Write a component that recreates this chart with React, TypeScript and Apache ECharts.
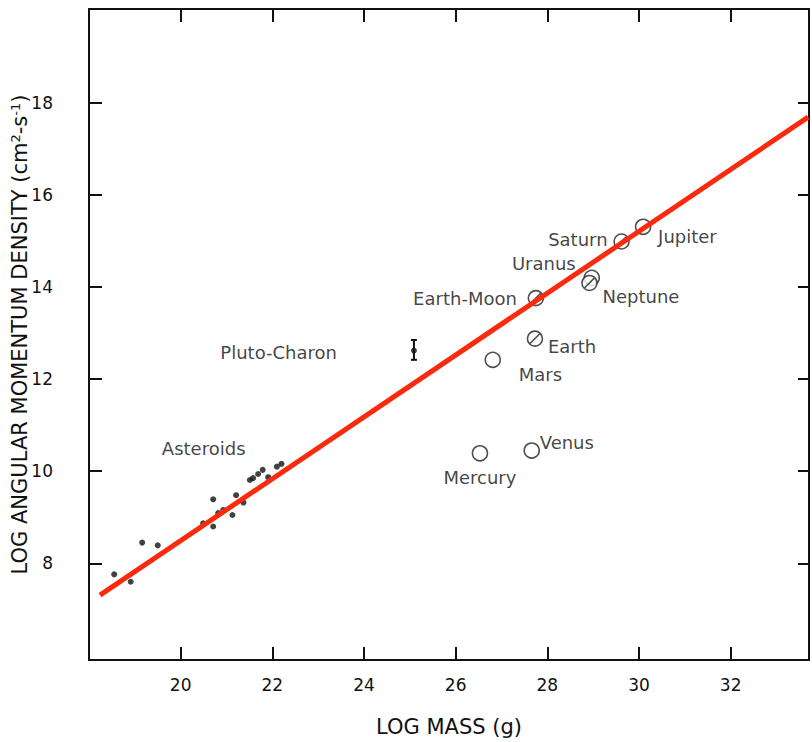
import React, { useEffect, useRef } from "react";
import * as echarts from "echarts";

// ---- data ----
const xTicks = [20, 22, 24, 26, 28, 30, 32];
const yTicks = [8, 10, 12, 14, 16, 18];

const asteroidMass = [18.55, 18.91, 19.16, 19.5, 20.49, 20.71, 20.71, 20.82, 20.93, 21.13, 21.21, 21.37, 21.51, 21.58, 21.69, 21.79, 21.91, 22.1, 22.2];
const asteroidJ = [7.76, 7.6, 8.45, 8.39, 8.87, 8.8, 9.39, 9.09, 9.16, 9.05, 9.48, 9.32, 9.81, 9.85, 9.94, 10.03, 9.87, 10.1, 10.16];

const planetNames = ["Mercury", "Venus", "Mars", "Earth", "Earth-Moon", "Uranus", "Neptune", "Saturn", "Jupiter"];
const planetMass = [26.53, 27.66, 26.81, 27.73, 27.75, 28.97, 28.92, 29.62, 30.09];
const planetJ = [10.39, 10.45, 12.42, 12.88, 13.76, 14.2, 14.09, 14.99, 15.31];

const plutoName = "Pluto-Charon";
const plutoMass = [25.09];
const plutoJ = [12.62];
const plutoJLow = [12.42];
const plutoJHigh = [12.85];

const fitMass = [18.24, 33.69];
const fitJ = [7.31, 17.69];

// ---- styling / layout ----
const FONT = "DejaVu Sans";
const TXT = "#111";
const slashed = new Set(["Earth", "Earth-Moon", "Neptune", "Saturn"]);
const labelLayout: Record<string, { align: string; offset: number[] }> = {
  Mercury: { align: "center", offset: [0, 24] },
  Venus: { align: "left", offset: [8, -8] },
  Mars: { align: "left", offset: [26, 15] },
  Earth: { align: "left", offset: [13, 8] },
  "Earth-Moon": { align: "right", offset: [-19, 0] },
  Uranus: { align: "right", offset: [-16, -14] },
  Neptune: { align: "left", offset: [13, 14] },
  Saturn: { align: "right", offset: [-14, -2] },
  Jupiter: { align: "left", offset: [15, 10] },
};
const slashPath = "path://M1,8A7,7,0,1,1,15,8A7,7,0,1,1,1,8ZM3,13L13,3";

export default function App() {
  const ref = useRef<HTMLDivElement>(null);
  useEffect(() => {
    if (!ref.current) return;
    const chart = echarts.init(ref.current, null, { renderer: "svg" });
    const xMin = 18, xMax = 33.71, yMin = 5.9, yMax = 20.04;
    const axisLineStyle = { color: "#111", width: 2 };
    const tickStyle = { color: "#111", width: 2 };
    const labelFont = { fontFamily: FONT, fontSize: 17, color: TXT };

    const planetData = planetNames.map((n, i) => {
      const lay = labelLayout[n];
      return {
        name: n,
        value: [planetMass[i], planetJ[i]],
        symbol: slashed.has(n) ? slashPath : "circle",
        label: {
          show: true,
          formatter: n,
          position: "inside",
          align: lay.align,
          verticalAlign: "middle",
          offset: lay.offset,
          fontFamily: FONT,
          fontSize: 18,
          color: TXT,
        },
      };
    });

    const asteroidData = asteroidMass.map((m, i) => ({
      value: [m, asteroidJ[i]],
      label: i === 15
        ? { show: true, formatter: "Asteroids", position: "inside", align: "center", verticalAlign: "middle", offset: [-59, -21], fontFamily: FONT, fontSize: 18, color: TXT }
        : { show: false },
    }));

    const option: any = {
      animation: false,
      backgroundColor: "#fff",
      grid: { left: 89, top: 9, right: 3, bottom: 82, containLabel: false, outerBoundsMode: "none" },
      xAxis: [
        {
          type: "value", min: xMin, max: xMax, position: "bottom",
          name: "LOG MASS (g)", nameLocation: "middle", nameGap: 56,
          nameTextStyle: { fontFamily: FONT, fontSize: 21, color: TXT },
          axisLine: { show: true, onZero: false, lineStyle: axisLineStyle },
          axisTick: { show: true, inside: true, length: 13, lineStyle: tickStyle, customValues: xTicks },
          axisLabel: { show: true, margin: 16, customValues: xTicks, ...labelFont },
          splitLine: { show: false },
        },
        {
          type: "value", min: xMin, max: xMax, position: "top",
          axisLine: { show: true, onZero: false, lineStyle: axisLineStyle },
          axisTick: { show: true, inside: true, length: 13, lineStyle: tickStyle, customValues: xTicks },
          axisLabel: { show: false },
          splitLine: { show: false },
        },
      ],
      yAxis: [
        {
          type: "value", min: yMin, max: yMax, position: "left",
          name: "LOG ANGULAR MOMENTUM DENSITY (cm{sup|2}-s{sup|-1})",
          nameLocation: "middle", nameGap: 58, nameRotate: 90, nameMoveOverlap: false,
          nameTextStyle: {
            fontFamily: FONT, fontSize: 21, color: TXT,
            rich: { sup: { fontFamily: FONT, fontSize: 13, color: TXT, verticalAlign: "top", padding: [0, 0, 9, 0] } },
          },
          axisLine: { show: true, onZero: false, lineStyle: axisLineStyle },
          axisTick: { show: true, inside: true, length: 13, lineStyle: tickStyle, customValues: yTicks },
          axisLabel: { show: true, margin: 36, customValues: yTicks, ...labelFont },
          splitLine: { show: false },
        },
        {
          type: "value", min: yMin, max: yMax, position: "right",
          axisLine: { show: true, onZero: false, lineStyle: axisLineStyle },
          axisTick: { show: true, inside: true, length: 11, lineStyle: tickStyle, customValues: yTicks },
          axisLabel: { show: false },
          splitLine: { show: false },
        },
      ],
      series: [
        {
          type: "scatter", name: "Asteroids", xAxisIndex: 0, yAxisIndex: 0,
          symbol: "circle", symbolSize: 6,
          itemStyle: { color: "#111" },
          data: asteroidData, z: 3,
        },
        {
          type: "scatter", name: "Planets", xAxisIndex: 0, yAxisIndex: 0,
          symbolSize: 15, symbolKeepAspect: true,
          itemStyle: { color: "#fff", borderColor: "#222", borderWidth: 1.6 },
          data: planetData, z: 3,
        },
        {
          type: "custom", name: "PlutoErr", xAxisIndex: 0, yAxisIndex: 0,
          data: plutoMass.map((m, i) => [m, plutoJLow[i], plutoJHigh[i]]),
          renderItem: (params: any, api: any) => {
            const x = api.value(0);
            const lo = api.coord([x, api.value(1)]);
            const hi = api.coord([x, api.value(2)]);
            const st = { stroke: "#111", lineWidth: 2 };
            return {
              type: "group",
              children: [
                { type: "line", shape: { x1: lo[0], y1: lo[1], x2: hi[0], y2: hi[1] }, style: st },
                { type: "line", shape: { x1: lo[0] - 3, y1: lo[1], x2: lo[0] + 3, y2: lo[1] }, style: st },
                { type: "line", shape: { x1: hi[0] - 3, y1: hi[1], x2: hi[0] + 3, y2: hi[1] }, style: st },
              ],
            };
          },
          z: 3,
        },
        {
          type: "scatter", name: "Pluto", xAxisIndex: 0, yAxisIndex: 0,
          symbol: "circle", symbolSize: 6,
          itemStyle: { color: "#111" },
          data: plutoMass.map((m, i) => ({
            value: [m, plutoJ[i]],
            label: { show: true, formatter: plutoName, position: "inside", align: "right", verticalAlign: "middle", offset: [-77, 2], fontFamily: FONT, fontSize: 18, color: TXT },
          })),
          z: 4,
        },
        {
          type: "line", name: "Fit", xAxisIndex: 0, yAxisIndex: 0,
          data: fitMass.map((m, i) => [m, fitJ[i]]),
          showSymbol: false, symbol: "none",
          lineStyle: { color: "#fb2a0c", width: 5 },
          z: 6,
        },
      ],
    };
    chart.setOption(option);
    return () => chart.dispose();
  }, []);
  return <div ref={ref} style={{ position: "absolute", left: 0, top: 0, width: 812, height: 742 }} />;
}
